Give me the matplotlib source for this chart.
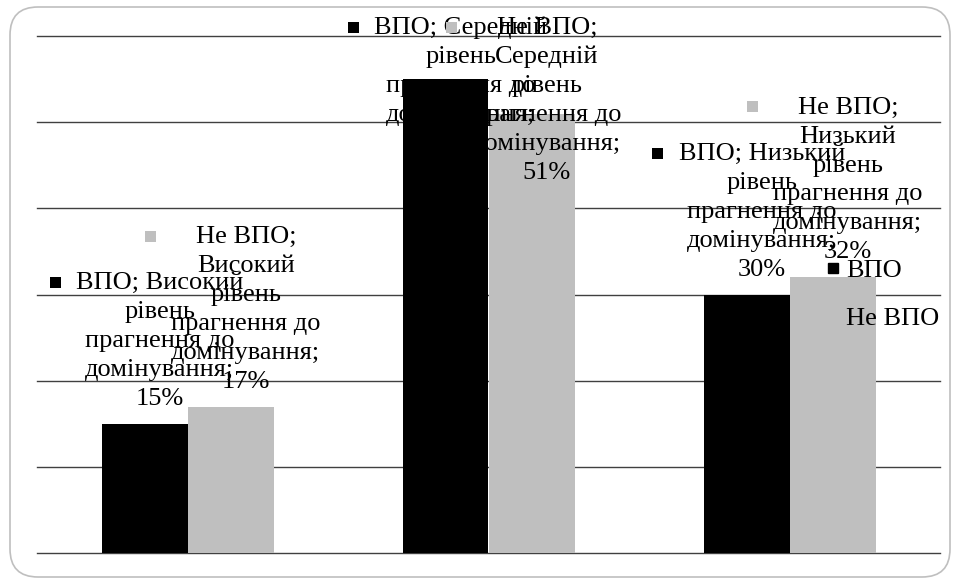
import textwrap
import numpy as np
import matplotlib
matplotlib.use("Agg")
import matplotlib.pyplot as plt
from matplotlib.offsetbox import TextArea, VPacker, HPacker, DrawingArea, AnnotationBbox
from matplotlib.patches import Rectangle, FancyBboxPatch
from matplotlib.lines import Line2D

# ---- data -------------------------------------------------------------
categories = [
    "Високий рівень прагнення до домінування",
    "Середній рівень прагнення до домінування",
    "Низький рівень прагнення до домінування",
]
series_names = ["ВПО", "Не ВПО"]
vpo_values = [15, 55, 30]
non_vpo_values = [17, 51, 32]
y_ticks = [0, 10, 20, 30, 40, 50, 60]

# ---- style ------------------------------------------------------------
BLACK = "#000000"
GRAY = "#bfbfbf"
GRID = "#404040"
FONT = "Liberation Serif"
FS = 19
LINE_SEP = 5.0

fig = plt.figure(figsize=(9.6, 5.8), dpi=100)
W, H = 960, 580
ax = fig.add_axes([37 / W, 27 / H, 903 / W, 517 / H])
ax.set_xlim(-0.5, len(categories) - 0.5)
ax.set_ylim(y_ticks[0], y_ticks[-1])
for s in ax.spines.values():
    s.set_visible(False)
ax.set_xticks([])
ax.set_yticks(y_ticks)
ax.tick_params(left=False, bottom=False, labelleft=False, labelbottom=False)
for t in y_ticks:
    ax.axhline(t, color=GRID, lw=1.0, zorder=1, clip_on=False)

x = np.arange(len(categories))
width = 86 / 301
ax.bar(x - width / 2, vpo_values, width, color=BLACK, zorder=4)
ax.bar(x + width / 2, non_vpo_values, width, color=GRAY, zorder=2)


def make_label(series, category, value, color):
    text = f"{series}; {category}; {value}%"
    lines = textwrap.wrap(text, width=13)
    rows = [TextArea(l, textprops=dict(fontsize=FS, family=FONT, color="black"))
            for l in lines]
    col = VPacker(children=rows, align="center", pad=0, sep=LINE_SEP)
    key = DrawingArea(8, 17)
    key.add_artist(Rectangle((0, 5.6), 8, 8, fc=color, ec="none"))
    return HPacker(children=[key, col], align="top", pad=0, sep=11)


labels = []
for vals, name, color, shift in [
    (vpo_values, series_names[0], BLACK, -width / 2),
    (non_vpo_values, series_names[1], GRAY, width / 2),
]:
    for i, v in enumerate(vals):
        box = make_label(name, categories[i], v, color)
        ab = AnnotationBbox(box, (x[i] + shift, v), xybox=(1.5, 10),
                            xycoords="data", boxcoords="offset points",
                            box_alignment=(0.5, 0), frameon=False, pad=0,
                            zorder=3, annotation_clip=False)
        ax.add_artist(ab)
        labels.append(ab)

# keep labels inside the chart area: push down those that run off the top
fig.canvas.draw()
renderer = fig.canvas.get_renderer()
top_limit = H - 17
for ab in labels:
    bb = ab.get_window_extent(renderer)
    if bb.y1 > top_limit:
        dx, dy = ab.xyann
        ab.xyann = (dx, dy - (bb.y1 - top_limit) * 72 / fig.dpi)

handles = [
    Line2D([], [], marker="s", ls="none", color=BLACK, markersize=7.5),
    Line2D([], [], marker="s", ls="none", color=GRAY, markersize=7.5),
]
fig.legend(handles, series_names, loc="upper left",
           bbox_to_anchor=(825 / W, 1 - 259 / H), frameon=False,
           prop=dict(family=FONT, size=FS), handlelength=0.6,
           handletextpad=0.2, labelspacing=0.9, borderpad=0, borderaxespad=0)

fig.patches.append(FancyBboxPatch(
    (0.10, 0.03), 9.40, 5.70, boxstyle="round,pad=0,rounding_size=0.28",
    transform=fig.dpi_scale_trans, fill=False, ec=GRAY, lw=1.2))

fig.savefig("out.png", dpi=100)
